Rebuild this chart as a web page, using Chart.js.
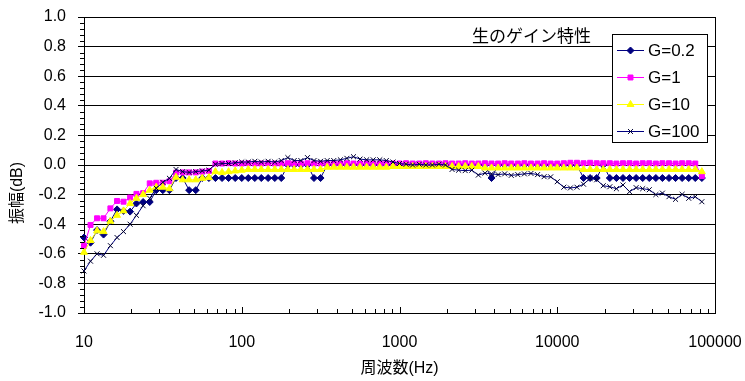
<!DOCTYPE html>
<html><head><meta charset="utf-8">
<script src="https://cdn.jsdelivr.net/npm/chart.js@4/dist/chart.umd.min.js"></script>
<style>html,body{margin:0;padding:0;background:#fff;}canvas{display:block;}</style>
</head><body>
<canvas id="c" width="745" height="381"></canvas>
<script>
const freqs = [10,11.0,12.1,13.3,14.7,16.2,17.8,19.6,21.5,23.7,26.1,28.7,31.6,34.8,38.3,42.2,46.4,51.1,56.2,61.9,68.1,75.0,82.5,90.9,
  100,110,121,133,147,162,178,196,215,237,261,287,316,348,383,422,464,511,562,619,681,750,825,909,
  1000,1101,1211,1334,1468,1616,1778,1957,2154,2371,2610,2873,3162,3481,3831,4217,4642,5109,5623,6190,6813,7499,8254,9085,
  10000,11007,12115,13335,14678,16156,17783,19573,21544,23714,26102,28730,31623,34807,38312,42170,46416,51090,56234,61897,68129,74989,82540];

const seriesNames = ['G=0.2','G=1','G=10','G=100'];

const g02 = [-0.49,-0.525,-0.44,-0.47,-0.38,-0.30,-0.31,-0.315,-0.26,-0.25,-0.25,-0.17,-0.17,-0.17,-0.088,-0.088,-0.17,-0.17,-0.088,-0.088,
  -0.088,-0.088,-0.088,-0.088,-0.088,-0.088,-0.088,-0.088,-0.088,-0.088,-0.088,0,0,0,0,-0.088,-0.088,0,0,0,
  0,0,0,0,0,0,0,0,0,0,0,0,0,0,0,0,0,0,0,0,
  0,0,-0.088,0,0,0,0,0,0,0,0,0,0,0,0,0,-0.088,-0.088,-0.088,0,
  -0.088,-0.088,-0.088,-0.088,-0.088,-0.088,-0.088,-0.088,-0.088,-0.088,-0.088,-0.088,-0.088,-0.088,-0.088];

const g1 = [-0.547,-0.405,-0.36,-0.36,-0.293,-0.243,-0.248,-0.22,-0.195,-0.19,-0.124,-0.12,-0.12,-0.11,-0.052,-0.05,-0.05,-0.05,-0.045,-0.04,
  0.01,0.01,0.012,0.01,0.01,0.012,0.01,0.01,0.012,0.01,0.01,0.012,0.01,0.01,0.012,0.01,0.01,0.012,0.01,0.01,
  0.012,0.01,0.01,0.012,0.01,0.01,0.012,0.01,0.01,0.012,0.01,0.01,0.012,0.01,0.01,0.012,0.01,0.01,0.012,0.01,
  0.01,0.012,0.01,0.01,0.012,0.01,0.01,0.012,0.01,0.01,0.012,0.01,0.01,0.012,0.015,0.015,0.012,0.015,0.012,0.012,
  0.012,0.01,0.012,0.012,0.01,0.012,0.012,0.01,0.012,0.012,0.01,0.012,0.012,0.01,-0.075];

const g10 = [-0.59,-0.51,-0.445,-0.45,-0.38,-0.34,-0.31,-0.26,-0.225,-0.20,-0.17,-0.15,-0.15,-0.16,-0.083,-0.10,-0.10,-0.10,-0.09,-0.085,
  -0.045,-0.05,-0.045,-0.04,-0.035,-0.03,-0.03,-0.03,-0.03,-0.03,-0.03,-0.03,-0.03,-0.03,-0.03,-0.03,-0.03,-0.015,-0.015,-0.015,
  -0.015,-0.015,-0.015,-0.015,-0.015,-0.015,-0.015,-0.01,-0.01,-0.01,-0.01,-0.01,-0.01,-0.01,-0.01,-0.01,-0.01,-0.01,-0.01,-0.01,
  -0.01,-0.02,-0.02,-0.02,-0.02,-0.02,-0.02,-0.02,-0.02,-0.02,-0.02,-0.02,-0.02,-0.02,-0.02,-0.02,-0.03,-0.03,-0.03,-0.03,
  -0.03,-0.03,-0.03,-0.03,-0.03,-0.03,-0.03,-0.03,-0.03,-0.03,-0.03,-0.03,-0.03,-0.03,-0.045];

const g100 = [-0.716,-0.65,-0.60,-0.61,-0.545,-0.49,-0.45,-0.40,-0.34,-0.275,-0.225,-0.157,-0.117,-0.09,-0.03,-0.045,-0.05,-0.045,-0.04,-0.035,
  0.005,0.01,0.01,0.015,0.02,0.02,0.025,0.02,0.025,0.02,0.03,0.05,0.03,0.03,0.05,0.03,0.025,0.03,0.03,0.035,
  0.045,0.056,0.04,0.035,0.035,0.035,0.03,0.02,0.01,0.005,0.0,0.005,0.0,0.0,0.005,0.0,-0.03,-0.035,-0.038,-0.035,
  -0.068,-0.055,-0.06,-0.065,-0.06,-0.07,-0.065,-0.06,-0.057,-0.065,-0.079,-0.08,-0.113,-0.15,-0.155,-0.15,-0.13,-0.09,-0.1,-0.14,
  -0.147,-0.16,-0.135,-0.18,-0.153,-0.16,-0.167,-0.2,-0.19,-0.214,-0.232,-0.198,-0.225,-0.214,-0.248];

const xTickLabels = [10, 100, 1000, 10000, 100000];
const yMin = -1.0, yMax = 1.0, yStep = 0.2, yMinorStep = 0.04;
const chartTitle = '生のゲイン特性';
const xTitle = '周波数(Hz)';
const yTitle = '振幅(dB)';

const FONT = "'Liberation Sans','Noto Sans CJK JP',sans-serif";
const styles = [
  {line:'#000080', fill:'#000080', stroke:'#000080', point:'rectRot', r:3.5},
  {line:'#FF00FF', fill:'#FF00FF', stroke:'#FF00FF', point:'rect', r:3.5},
  {line:'#FFFF00', fill:'#FFFF00', stroke:'#FFFF00', point:'triangle', r:4},
  {line:'#000080', fill:'#000030', stroke:'#000030', point:'crossRot', r:3.5}
];
const allSeries = [g02, g1, g10, g100];

const datasets = allSeries.map((vals, i) => ({
  label: seriesNames[i],
  data: freqs.map((f, j) => ({x: f, y: vals[j]})),
  borderColor: styles[i].line,
  backgroundColor: styles[i].fill,
  pointBackgroundColor: styles[i].fill,
  pointBorderColor: styles[i].stroke,
  pointStyle: styles[i].point,
  pointRadius: styles[i].r,
  pointBorderWidth: 1,
  borderWidth: 1,
  tension: 0,
  fill: false,
  clip: false,
  order: 4 - i
}));

const extras = {
  id: 'extras',
  beforeDraw(chart) {
    const ctx = chart.ctx;
    ctx.save();
    ctx.fillStyle = '#fff';
    ctx.fillRect(0, 0, chart.width, chart.height);
    ctx.restore();
  },
  afterDraw(chart) {
    const {ctx, chartArea: a, scales: {x, y}} = chart;
    ctx.save();
    ctx.strokeStyle = '#000';
    ctx.lineWidth = 1;
    ctx.beginPath();
    ctx.moveTo(Math.round(a.right) + 0.5, a.top);
    ctx.lineTo(Math.round(a.right) + 0.5, a.bottom);
    ctx.stroke();
    ctx.beginPath();
    for (let d = 10; d <= 100000; d *= 10) {
      for (let m = 1; m <= 9; m++) {
        const v = d * m;
        if (v > 100000) break;
        const px = Math.round(x.getPixelForValue(v)) + 0.5;
        const len = m === 1 ? 6 : 4;
        ctx.moveTo(px, a.bottom);
        ctx.lineTo(px, a.bottom - len);
      }
    }
    ctx.stroke();
    ctx.beginPath();
    const n = Math.round((yMax - yMin) / yMinorStep);
    for (let i = 0; i <= n; i++) {
      if (i % 5 === 0) continue;
      const v = yMin + i * yMinorStep;
      const py = Math.round(y.getPixelForValue(v)) + 0.5;
      ctx.moveTo(a.left - 4, py);
      ctx.lineTo(a.left, py);
    }
    ctx.stroke();
    ctx.fillStyle = '#000';
    ctx.font = "17px " + FONT;
    ctx.textBaseline = 'middle';
    ctx.textAlign = 'left';
    ctx.fillText(chartTitle, 472, 37);
    const lx = 612, ly = 34, lw = 95, lh = 108;
    ctx.fillStyle = '#fff';
    ctx.fillRect(lx, ly, lw, lh);
    ctx.strokeStyle = '#000';
    ctx.strokeRect(lx + 0.5, ly + 0.5, lw, lh);
    for (let i = 0; i < 4; i++) {
      const cy = 50 + i * 27;
      ctx.strokeStyle = styles[i].line;
      ctx.lineWidth = 1;
      ctx.beginPath();
      ctx.moveTo(617, cy + 0.5);
      ctx.lineTo(644, cy + 0.5);
      ctx.stroke();
      ctx.fillStyle = styles[i].fill;
      ctx.strokeStyle = styles[i].stroke;
      Chart.helpers.drawPoint(ctx, {pointStyle: styles[i].point, radius: styles[i].r, borderWidth: 1, rotation: 0}, 630.5, cy + 0.5);
      ctx.fillStyle = '#000';
      ctx.font = "17px " + FONT;
      ctx.textAlign = 'left';
      ctx.textBaseline = 'middle';
      ctx.fillText(seriesNames[i], 648, cy + 1);
    }
    ctx.fillStyle = '#000';
    ctx.font = "16px " + FONT;
    ctx.textAlign = 'center';
    ctx.textBaseline = 'middle';
    ctx.fillText(xTitle, (a.left + a.right) / 2, 369);
    ctx.save();
    ctx.translate(18, 193);
    ctx.rotate(-Math.PI / 2);
    ctx.fillText(yTitle, 0, 0);
    ctx.restore();
    ctx.restore();
  }
};

new Chart(document.getElementById('c'), {
  type: 'line',
  data: { datasets },
  plugins: [extras],
  options: {
    responsive: false,
    animation: false,
    devicePixelRatio: 1,
    layout: { padding: { left: 0, top: 17, right: 30, bottom: 0 } },
    plugins: { legend: { display: false }, tooltip: { enabled: false }, title: { display: false } },
    scales: {
      x: {
        type: 'logarithmic',
        min: 10, max: 100000,
        afterFit(s) { s.height = 68; s.paddingLeft = 0; s.paddingRight = 0; },
        grid: { display: false, drawTicks: false },
        border: { display: true, color: '#000', width: 1 },
        ticks: {
          autoSkip: false, maxRotation: 0, minRotation: 0,
          padding: 20, color: '#000', font: { size: 16, family: FONT },
          callback: (v) => xTickLabels.includes(v) ? String(v) : ''
        }
      },
      y: {
        min: yMin, max: yMax,
        afterFit(s) { s.width = 84; s.paddingTop = 0; s.paddingBottom = 0; },
        grid: { color: '#000', lineWidth: 1, drawTicks: true, tickLength: 6, tickColor: '#000' },
        border: { display: true, color: '#000', width: 1 },
        ticks: {
          stepSize: yStep, padding: 12, color: '#000', font: { size: 16, family: FONT },
          callback: (v) => Number(v).toFixed(1)
        }
      }
    }
  }
});
</script>
</body></html>
